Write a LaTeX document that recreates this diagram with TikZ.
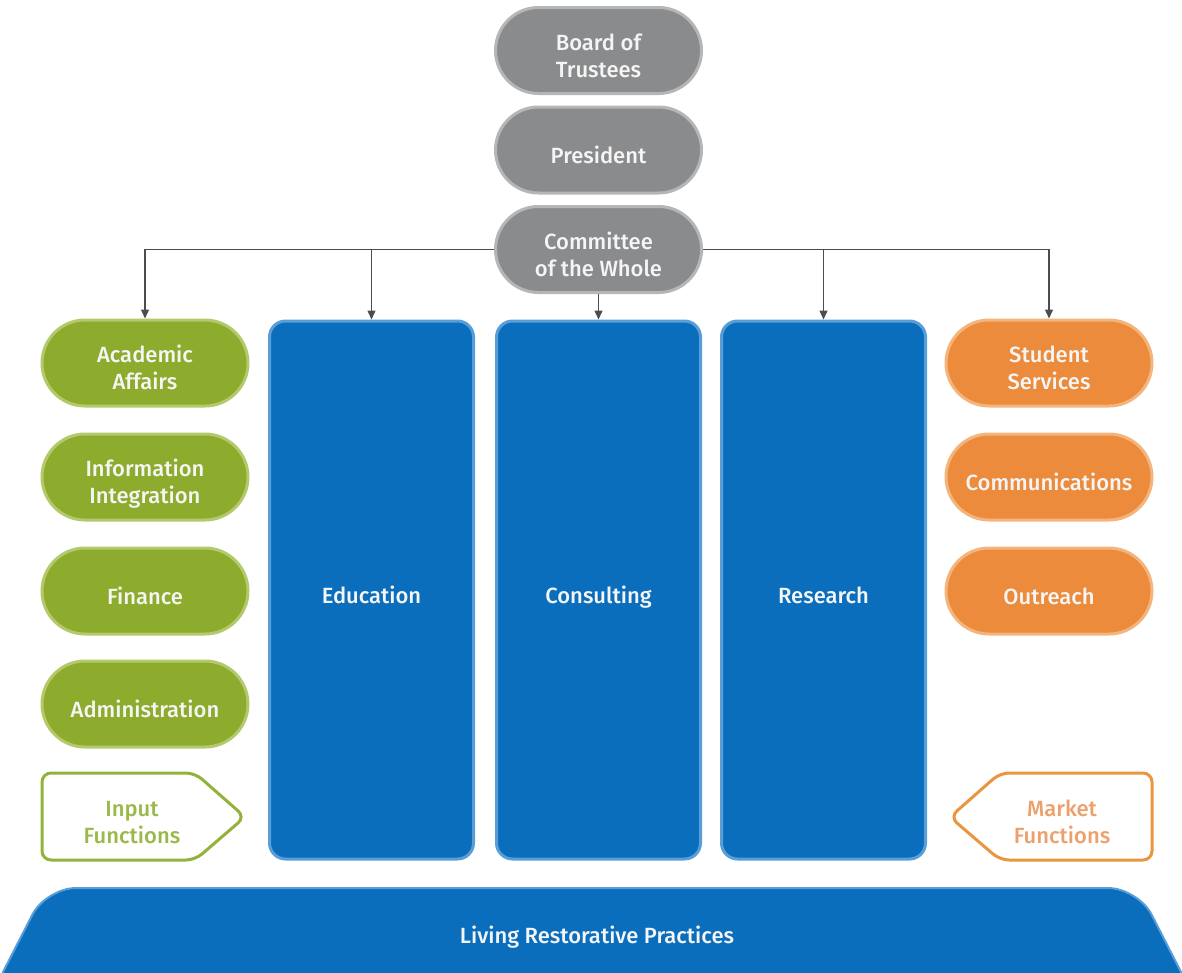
\documentclass[tikz,border=0pt]{standalone}
\usepackage{fontspec}
\setmainfont{Fira Sans}[UprightFont=* Medium]
\usetikzlibrary{shapes.misc,arrows.meta}
\definecolor{gfill}{HTML}{8DAB2C}
\definecolor{gedge}{HTML}{B3C96B}
\definecolor{gline}{HTML}{93B23A}
\definecolor{gtext}{HTML}{9BB84A}
\definecolor{ofill}{HTML}{EC8B3B}
\definecolor{oedge}{HTML}{F4B47E}
\definecolor{oline}{HTML}{EA953F}
\definecolor{otext}{HTML}{EDA06A}
\definecolor{kfill}{HTML}{8A8B8D}
\definecolor{kedge}{HTML}{B5B6B8}
\definecolor{bfill}{HTML}{0A6EBD}
\definecolor{bedge}{HTML}{5A9ED8}
\definecolor{arrowc}{HTML}{4D4D4F}
\newcommand\mytxt[1]{\raisebox{-8pt}[\height][\depth]{\begin{tabular}{@{}c@{}}#1\end{tabular}}}
\begin{document}
\begin{tikzpicture}[x=1pt,y=-1pt,
  txt/.style={text=white!96!black, align=center, font=\fontsize{22}{27}\selectfont},
  pill/.style={txt, rounded rectangle, minimum width=206pt, minimum height=86pt, line width=3pt, inner sep=0pt},
  gpill/.style={pill, fill=gfill, draw=gedge},
  opill/.style={pill, fill=ofill, draw=oedge},
  kpill/.style={pill, fill=kfill, draw=kedge},
  col/.style={txt, rectangle, rounded corners=16pt, fill=bfill, draw=bedge, line width=3pt, minimum width=204pt, minimum height=538pt},
  conn/.style={draw=arrowc, line width=1.3pt, -{Triangle[length=9pt,width=8pt]}}
]
\useasboundingbox (0,0) rectangle (1182,972);

% top gray pills
\node[kpill] (board) at (598.5,50.5) {\mytxt{Board of\\Trustees}};
\node[kpill] (pres) at (598.5,150) {\mytxt{President}};
\node[kpill] (comm) at (598.5,249.5) {\mytxt{Committee\\of the Whole}};

% left green pills
\node[gpill] (acad) at (145,363) {\mytxt{Academic\\Affairs}};
\node[gpill] (info) at (145,477) {\mytxt{Information\\Integration}};
\node[gpill] (fin) at (145,591) {\mytxt{Finance}};
\node[gpill] (adm) at (145,704) {\mytxt{Administration}};

% blue columns
\node[col] (edu) at (371.5,590) {\mytxt{Education}};
\node[col] (cons) at (598.5,590) {\mytxt{Consulting}};
\node[col] (res) at (823.5,590) {\mytxt{Research}};

% right orange pills
\node[opill] (stud) at (1049,363) {\mytxt{Student\\Services}};
\node[opill] (comms) at (1049,477) {\mytxt{Communications}};
\node[opill] (outr) at (1049,591) {\mytxt{Outreach}};

% input / market functions
\draw[gline, line width=3pt, rounded corners=9pt]
  (120,773) -- (195,773) -- (245,817) -- (195,860) -- (42,860) -- (42,773) -- (120,773);
\node[txt, text=gtext] (inp) at (132,817) {\mytxt{Input\\Functions}};
\draw[oline, line width=3pt, rounded corners=9pt]
  (1070,773) -- (1152,773) -- (1152,860) -- (1000,860) -- (950,817) -- (1000,773) -- (1070,773);
\node[txt, text=otext] (mkt) at (1062,817) {\mytxt{Market\\Functions}};

% banner
\draw[fill=bfill, draw=bedge, line width=2pt]
  (2,974) [rounded corners=30pt] -- (46,888) -- (1138,888) [sharp corners] -- (1182,974) -- cycle;
\node[txt] (lrp) at (597,930) {\mytxt{Living Restorative Practices}};

% connectors
\draw[conn] (comm.west) -| (acad.north);
\draw[conn] (comm.west) -| (edu.north);
\draw[conn] (comm.south) -- (cons.north);
\draw[conn] (comm.east) -| (res.north);
\draw[conn] (comm.east) -| (stud.north);
\end{tikzpicture}
\end{document}
